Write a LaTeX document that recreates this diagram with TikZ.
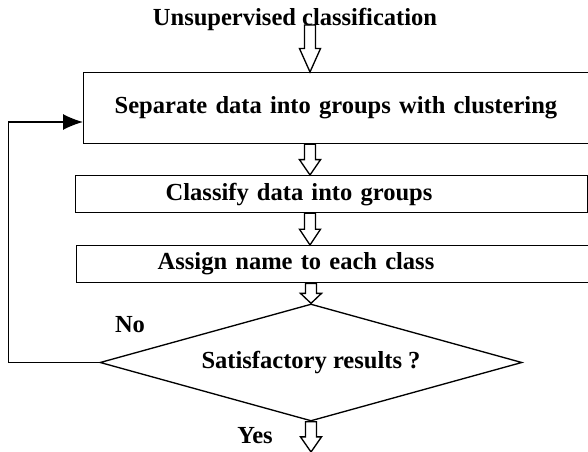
\documentclass[tikz,border=0pt]{standalone}
\usepackage{fontspec}
\setmainfont{Liberation Serif}
\usetikzlibrary{positioning}
\usetikzlibrary{arrows.meta}
\usetikzlibrary{calc}
\usetikzlibrary{shapes.geometric}

\tikzset{
  flowtext/.style={font=\fontsize{18.4}{22}\selectfont\bfseries},
  stage/.style={draw, line width=1pt, flowtext, anchor=north west, align=left, inner ysep=0pt},
  decision/.style={draw, line width=1pt, diamond, aspect=3.6, flowtext,
    minimum width=316.5pt, minimum height=87.75pt, inner sep=0pt},
  hollow/.style={draw, line width=1pt},
  % outlined block arrow, head takes the lower half
  blockarrow/.style={to path={
    let \p1=(\tikztostart), \p2=(\tikztotarget),
        \p3=($(\tikztostart)!.5!(\tikztotarget)$) in
    (\x1-4.1pt,\y1) -- (\x1-4.1pt,\y3) -- (\x1-7.9pt,\y3) -- (\x2,\y2)
    -- (\x1+7.9pt,\y3) -- (\x1+4.1pt,\y3) -- (\x1+4.1pt,\y1) -- cycle}},
  feedback/.style={draw, line width=1pt, -{Latex[length=15pt,width=12pt]}}
}

\begin{document}
\begin{tikzpicture}[x=0.75pt, y=-0.75pt]
  \path[use as bounding box, clip] (0,0) rectangle (588,452);
  \coordinate (spine) at (310,0);

  \node[flowtext] (title) at (295,19) {Unsupervised classification};
  \node[stage, minimum height=53.25pt, inner xsep=23.25pt, text width=380pt]
    (sep) at (83,72) {Separate data into groups with clustering};
  \node[stage, minimum height=27.75pt, inner xsep=67.5pt, text width=249pt]
    (cls) at (75,175) {Classify data into groups};
  \node[stage, minimum height=27.75pt, inner xsep=60.75pt, text width=300pt]
    (asg) at (76,245) {Assign name to each class};
  \node[decision] (check) at (311,362.5) {Satisfactory results ?};
  \node[flowtext] (no) at (130,325) {No};
  \node[flowtext] (yes) at (255,436) {Yes};

  \coordinate (reentry) at (83,122);
  \coordinate (exit) at (311,452);

  % main flow
  \draw[hollow] (title.base -| spine) to[blockarrow] (sep.north -| spine);
  \draw[hollow] (sep.south -| spine) to[blockarrow] (cls.north -| spine);
  \draw[hollow] (cls.south -| spine) to[blockarrow] (asg.north -| spine);
  \draw[hollow] (asg.south -| check.north) to[blockarrow] (check.north);
  \draw[hollow] (check.south) to[blockarrow] (exit);

  % loop back when not satisfied
  \draw[feedback] (check.west) -- ++(-91,0) |- (reentry);
\end{tikzpicture}
\end{document}
